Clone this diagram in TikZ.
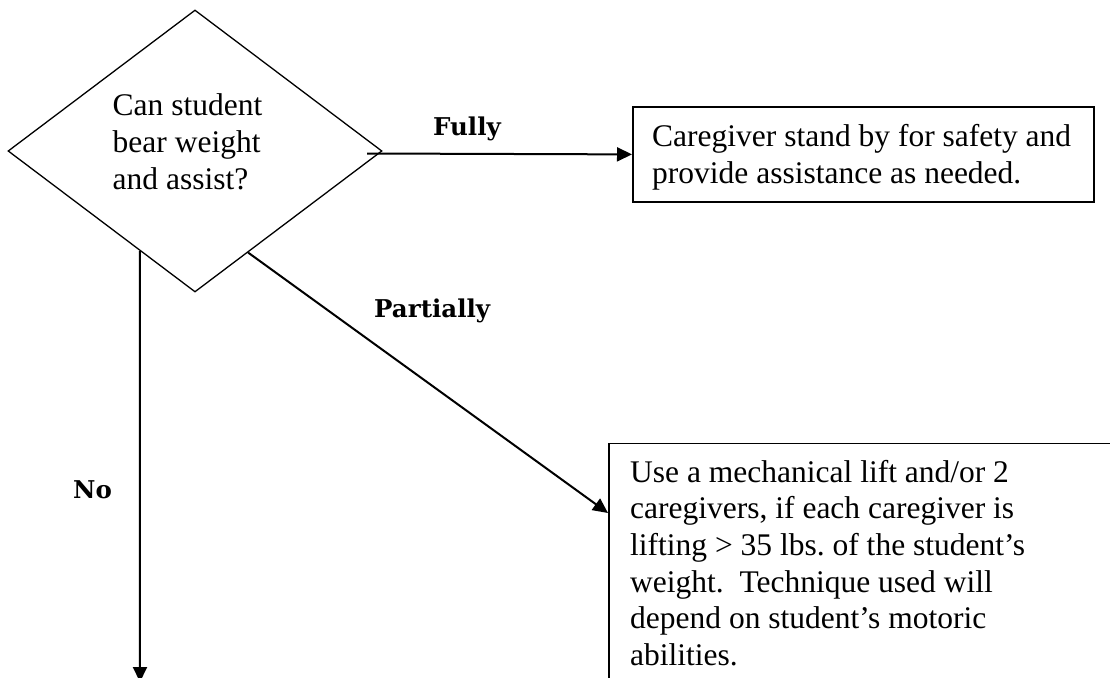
\documentclass[tikz,border=0pt]{standalone}
\usepackage{fontspec}
\setmainfont{Liberation Serif}
\newfontfamily\labelfont{DejaVu Serif}
\usetikzlibrary{shapes.geometric,arrows.meta,calc}
\frenchspacing
\begin{document}
\begin{tikzpicture}[x=1pt,y=-1pt,
  body/.style={font=\fontsize{31.5}{36.7}\selectfont, inner sep=0pt, anchor=base west, align=left},
  branch/.style={font=\labelfont\bfseries\fontsize{24.5}{28}\selectfont, inner sep=0pt, anchor=base west},
  decision/.style={diamond, draw, line width=1.3pt, minimum width=374pt, minimum height=282pt, inner sep=0pt},
  action/.style={rectangle, draw, line width=1.8pt, inner sep=0pt, anchor=north west},
  flow/.style={line width=2pt, -{Triangle[length=15pt,width=14pt]}}]
\useasboundingbox (0,0) rectangle (1110,677);
\fill[white] (0,0) rectangle (1110,677);

% decision diamond and its question (text placed by the baseline of its last line)
\node[decision] (q) at (195,151) {};
\node[body] (qtext) at (112.5,189.3) {Can student\\bear weight\\and assist?};

% outcome boxes
\node[action, minimum width=461pt, minimum height=95pt] (full) at (632,106) {};
\node[body] (fulltext) at (652,183.2) {Caregiver stand by for safety and\\provide assistance as needed.};

\node[action, minimum width=600pt, minimum height=300pt] (part) at (608,442.5) {};
\node[body] (parttext) at (630,665.5) {Use a mechanical lift and/or 2\\caregivers, if each caregiver is\\lifting > 35 lbs.\ of the student’s\\weight.\ \ Technique used will\\depend on student’s motoric\\abilities.};

% branches
\coordinate (fullstart) at (367,153.5);
\coordinate (partstart) at ($(q.south)!0.283!(q.east)$);
\coordinate (partend) at ($(part.north west)+(0,70.5)$);
\coordinate (nostart) at ($(q.south)!0.294!(q.west)$);
\coordinate (noend) at (140,682);

\draw[flow] (fullstart) -- (full.west);
\draw[flow] (partstart) -- (partend);
\draw[flow] (nostart) -- (noend);

\node[branch] (fully) at (433,135) {Fully};
\node[branch] (partially) at (374,317.3) {Partially};
\node[branch] (no) at (73,498) {No};
\end{tikzpicture}
\end{document}
